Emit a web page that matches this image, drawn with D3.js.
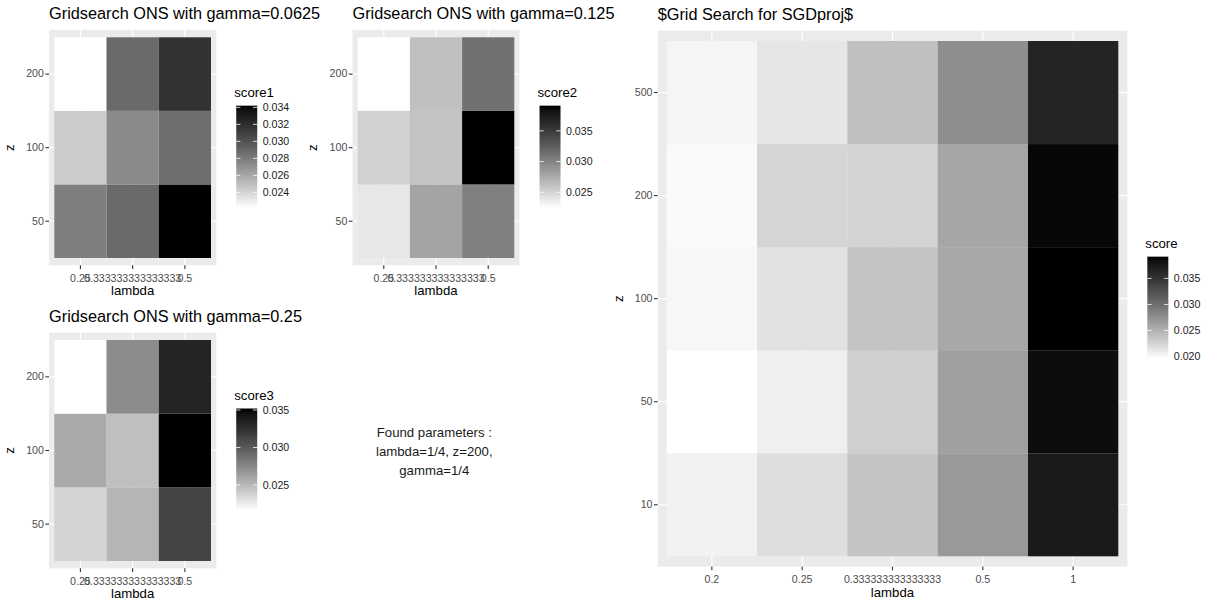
<!DOCTYPE html>
<html>
<head>
<meta charset="utf-8">
<script src="https://cdn.jsdelivr.net/npm/d3@7"></script>
<style>
  html, body { margin: 0; padding: 0; background: #ffffff; }
  svg { display: block; font-family: "Liberation Sans", Arial, Helvetica, sans-serif; }
</style>
</head>
<body>
<svg id="chart" width="1209" height="603"></svg>
<script>
// ---------------- DATA ----------------
const lambdaSmall = ["0.25", "0.333333333333333", "0.5"];
const zSmall = ["50", "100", "200"];
// rows follow zSmall order, columns follow lambdaSmall order
const score1 = [
  [0.0278, 0.0288, 0.0342],
  [0.0244, 0.0273, 0.0286],
  [0.0222, 0.0288, 0.0317]
];
const score2 = [
  [0.0239, 0.0279, 0.0302],
  [0.0252, 0.0260, 0.0391],
  [0.0225, 0.0262, 0.0312]
];
const score3 = [
  [0.0237, 0.0252, 0.0313],
  [0.0258, 0.0247, 0.0352],
  [0.0216, 0.0273, 0.0333]
];
const score1Ticks = [0.024, 0.026, 0.028, 0.030, 0.032, 0.034];
const score2Ticks = [0.025, 0.030, 0.035];
const score3Ticks = [0.025, 0.030, 0.035];

const lambdaBig = ["0.2", "0.25", "0.333333333333333", "0.5", "1"];
const zBig = ["10", "50", "100", "200", "500"];
// rows follow zBig order, columns follow lambdaBig order
const scoreBig = [
  [0.02049, 0.02186, 0.02368, 0.02681, 0.03735],
  [0.01961, 0.02070, 0.02292, 0.02628, 0.03846],
  [0.02015, 0.02159, 0.02368, 0.02569, 0.03917],
  [0.01995, 0.02249, 0.02262, 0.02585, 0.03879],
  [0.02029, 0.02131, 0.02397, 0.02763, 0.03639]
];
const scoreBigTicks = [0.020, 0.025, 0.030, 0.035];

const titles = [
  "Gridsearch ONS with gamma=0.0625",
  "Gridsearch ONS with gamma=0.125",
  "Gridsearch ONS with gamma=0.25",
  "$Grid Search for SGDproj$"
];
const legendTitles = ["score1", "score2", "score3", "score"];
const noteLines = ["Found parameters :", "lambda=1/4, z=200,", "gamma=1/4"];

// ---------------- DRAW ----------------
const svg = d3.select("#chart");
const FS_TITLE = 16.3, FS_AXIS = 13.2, FS_TICK = 10.6;
let gradId = 0;

function heatmap(opt) {
  const { title, xCats, yCats, values, tx0, tx1, ty0, ty1, legendTitle, legendTicks } = opt;
  const g = svg.append("g");
  const x = d3.scaleBand().domain(xCats).range([tx0, tx1]);
  const y = d3.scaleBand().domain(yCats).range([ty1, ty0]);
  const bw = x.bandwidth(), bh = y.bandwidth();
  const bgL = tx0 - 0.1 * bw, bgR = tx1 + 0.1 * bw;
  const bgT = ty0 - 0.1 * bh, bgB = ty1 + 0.1 * bh;

  const cells = [];
  values.forEach((row, i) => row.forEach((v, j) => cells.push({ z: yCats[i], l: xCats[j], v })));
  const ext = d3.extent(cells, d => d.v);
  const color = d3.scaleLinear().domain(ext).range(["#ffffff", "#000000"]).interpolate(d3.interpolateLab);

  // panel background
  g.append("rect").attr("x", bgL).attr("y", bgT).attr("width", bgR - bgL).attr("height", bgB - bgT).attr("fill", "#EBEBEB");
  // grid lines
  g.selectAll(".gx").data(xCats).enter().append("line")
    .attr("x1", d => x(d) + bw / 2).attr("x2", d => x(d) + bw / 2)
    .attr("y1", bgT).attr("y2", bgB).attr("stroke", "#ffffff").attr("stroke-width", 1.2);
  g.selectAll(".gy").data(yCats).enter().append("line")
    .attr("y1", d => y(d) + bh / 2).attr("y2", d => y(d) + bh / 2)
    .attr("x1", bgL).attr("x2", bgR).attr("stroke", "#ffffff").attr("stroke-width", 1.2);
  // tiles
  g.selectAll(".tile").data(cells).enter().append("rect")
    .attr("x", d => x(d.l)).attr("y", d => y(d.z))
    .attr("width", bw).attr("height", bh)
    .attr("fill", d => color(d.v));

  // axes
  const xAxis = g.append("g").attr("transform", `translate(0,${bgB})`)
    .call(d3.axisBottom(x).tickSize(3.7).tickPadding(5));
  const yAxis = g.append("g").attr("transform", `translate(${bgL},0)`)
    .call(d3.axisLeft(y).tickSize(3.7).tickPadding(1.5));
  [xAxis, yAxis].forEach(a => {
    a.select(".domain").remove();
    a.selectAll(".tick line").attr("stroke", "#333333").attr("stroke-width", 1.1);
    a.selectAll(".tick text").attr("fill", "#4D4D4D").attr("font-size", FS_TICK)
      .attr("font-family", "Liberation Sans, Arial, sans-serif");
  });

  // axis titles
  g.append("text").attr("x", (bgL + bgR) / 2).attr("y", bgB + 30)
    .attr("text-anchor", "middle").attr("font-size", FS_AXIS).attr("fill", "#000").text("lambda");
  g.append("text").attr("transform", `translate(${bgL - 35},${(bgT + bgB) / 2}) rotate(-90)`)
    .attr("text-anchor", "middle").attr("font-size", FS_AXIS).attr("fill", "#000").text("z");

  // plot title
  g.append("text").attr("x", bgL).attr("y", bgT - 11).attr("font-size", FS_TITLE)
    .attr("fill", "#000").text(title);

  // legend colourbar
  const barW = 21, barH = 102;
  const barX = bgR + 20, barY = (bgT + bgB) / 2 + 9 - barH / 2;
  const id = "grad" + (gradId++);
  const grad = svg.append("defs").append("linearGradient").attr("id", id)
    .attr("x1", 0).attr("y1", 1).attr("x2", 0).attr("y2", 0);
  d3.range(0, 1.0001, 0.05).forEach(t => {
    grad.append("stop").attr("offset", t).attr("stop-color", color(ext[0] + t * (ext[1] - ext[0])));
  });
  g.append("text").attr("x", barX - 2).attr("y", barY - 8.5).attr("font-size", FS_AXIS)
    .attr("fill", "#000").text(legendTitle);
  g.append("rect").attr("x", barX).attr("y", barY).attr("width", barW).attr("height", barH)
    .attr("fill", `url(#${id})`);
  const ly = d3.scaleLinear().domain(ext).range([barY + barH, barY]);
  const lt = g.selectAll(".lt").data(legendTicks).enter().append("g");
  lt.append("line").attr("x1", barX).attr("x2", barX + barW / 5)
    .attr("y1", d => ly(d)).attr("y2", d => ly(d)).attr("stroke", "#ffffff").attr("stroke-opacity", 0.8).attr("stroke-width", 1);
  lt.append("line").attr("x1", barX + barW - barW / 5).attr("x2", barX + barW)
    .attr("y1", d => ly(d)).attr("y2", d => ly(d)).attr("stroke", "#ffffff").attr("stroke-opacity", 0.8).attr("stroke-width", 1);
  lt.append("text").attr("x", barX + barW + 5.5).attr("y", d => ly(d)).attr("dy", "0.36em")
    .attr("font-size", FS_TICK).attr("fill", "#1a1a1a").text(d => d3.format(".3f")(d));
}

heatmap({ title: titles[0], xCats: lambdaSmall, yCats: zSmall, values: score1,
  tx0: 54.3, tx1: 211, ty0: 37.3, ty1: 258, legendTitle: legendTitles[0], legendTicks: score1Ticks });
heatmap({ title: titles[1], xCats: lambdaSmall, yCats: zSmall, values: score2,
  tx0: 357.7, tx1: 514.3, ty0: 37.3, ty1: 258, legendTitle: legendTitles[1], legendTicks: score2Ticks });
heatmap({ title: titles[2], xCats: lambdaSmall, yCats: zSmall, values: score3,
  tx0: 54.3, tx1: 211, ty0: 340, ty1: 561, legendTitle: legendTitles[2], legendTicks: score3Ticks });
heatmap({ title: titles[3], xCats: lambdaBig, yCats: zBig, values: scoreBig,
  tx0: 666.7, tx1: 1118.3, ty0: 41, ty1: 556.3, legendTitle: legendTitles[3], legendTicks: scoreBigTicks });

// note text
svg.append("g").selectAll("text").data(noteLines).enter().append("text")
  .attr("x", 434.3).attr("y", (d, i) => 437 + i * 19)
  .attr("text-anchor", "middle").attr("font-size", FS_AXIS).attr("fill", "#1a1a1a").text(d => d);
</script>
</body>
</html>
